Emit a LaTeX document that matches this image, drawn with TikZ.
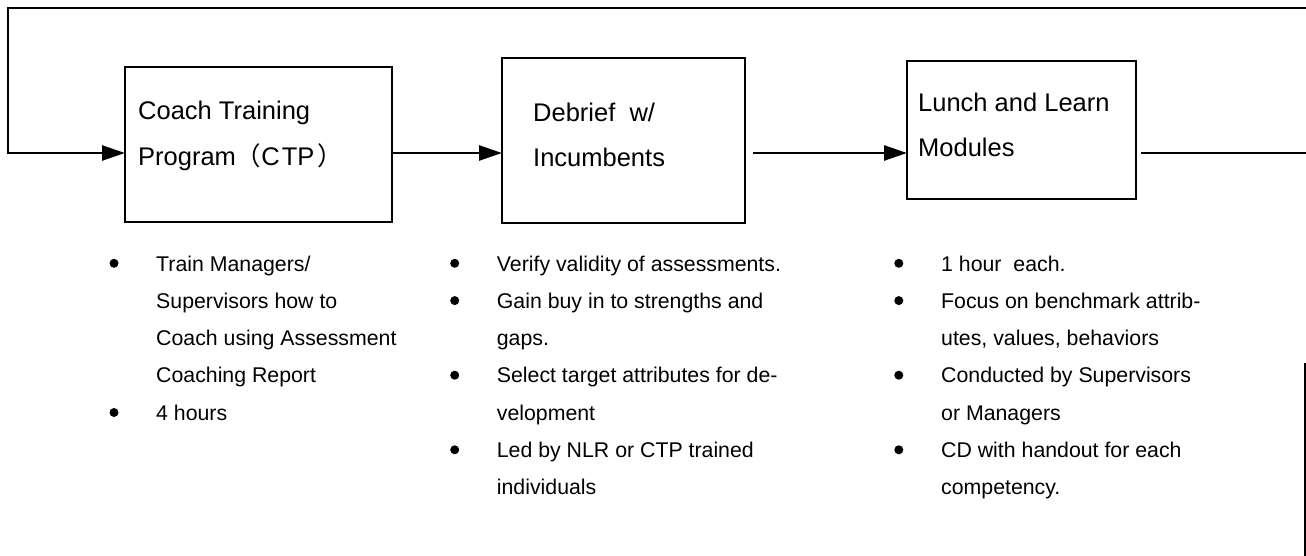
\documentclass[tikz,border=0pt]{standalone}
\usepackage{fontspec}
\setmainfont{Liberation Sans}
\newfontfamily\cjk{Noto Sans CJK SC}
\usetikzlibrary{arrows.meta}
\begin{document}
\begin{tikzpicture}[x=1pt,y=-1pt,
  ln/.style={line width=2.5pt},
  arr/.style={line width=2.5pt, -{Triangle[length=23pt,width=15pt]}},
  box/.style={draw, line width=2.6pt, inner sep=0pt, outer sep=0pt},
  ttl/.style={anchor=base west, inner sep=0pt, font=\fontsize{25.5}{30}\selectfont},
  itm/.style={anchor=base west, inner sep=0pt, font=\fontsize{21.3}{25}\selectfont},
]
\useasboundingbox (0,0) rectangle (1306,556);

% boxes
\node[box, minimum width=267pt, minimum height=155pt] (b1) at (258.5,144.5) {};
\node[box, minimum width=243pt, minimum height=165pt] (b2) at (623.5,140.5) {};
\node[box, minimum width=229pt, minimum height=138pt] (b3) at (1021.5,130) {};

% box titles
\node[ttl] (t1a) at (138,120) {Coach Training};
\node[ttl] (t1b) at (138,166) {Program{\cjk（}C\hspace{2pt}TP\hspace{3pt}{\cjk）}};
\node[ttl] (t2a) at (533,121.7) {Debrief\ \ w/};
\node[ttl] (t2b) at (533,166.7) {Incumbents};
\node[ttl] (t3a) at (918,111.7) {Lunch and Learn};
\node[ttl] (t3b) at (918,156.7) {Modules};

% connectors
\coordinate (tl) at (8,8);
\coordinate (tr) at (1306,8);
\coordinate (row) at (0,153);
\coordinate (re) at (1306,153);
\draw[arr] (tr) -- (tl) |- (b1.west |- row);
\draw[arr] (b1.east |- row) -- (b2.west |- row);
\draw[arr] ([xshift=8pt]b2.east |- row) -- (b3.west |- row);
\draw[ln] ([xshift=5pt]b3.east |- row) -- (re);

% right edge fragment
\coordinate (ea) at (1305,363);
\coordinate (eb) at (1305,556);
\draw[line width=1.5pt] (ea) -- (eb);

% list 1
\foreach \t [count=\i from 0] in {Train Managers/, Supervisors how to, Coach using Assessment, Coaching Report, 4 hours}
  \node[itm] (la\i) at (156, 271+37.3*\i) {\t};
\foreach \k in {0,4} \fill (114, 263.3+37.3*\k) circle (4.5);

% list 2
\foreach \t [count=\i from 0] in {Verify validity of assessments., Gain buy in to strengths and, gaps., Select target attributes for de-, velopment, Led by NLR or CTP trained, individuals}
  \node[itm] (lb\i) at (496.7, 271+37.3*\i) {\t};
\foreach \k in {0,1,3,5} \fill (454.7, 263.3+37.3*\k) circle (4.5);

% list 3
\foreach \t [count=\i from 0] in {1 hour\ \ each., Focus on benchmark attrib-, {utes, values, behaviors}, Conducted by Supervisors, or Managers, CD with handout for each, competency.}
  \node[itm] (lc\i) at (941, 271+37.3*\i) {\t};
\foreach \k in {0,1,3,5} \fill (898.8, 263.3+37.3*\k) circle (4.5);
\end{tikzpicture}
\end{document}
